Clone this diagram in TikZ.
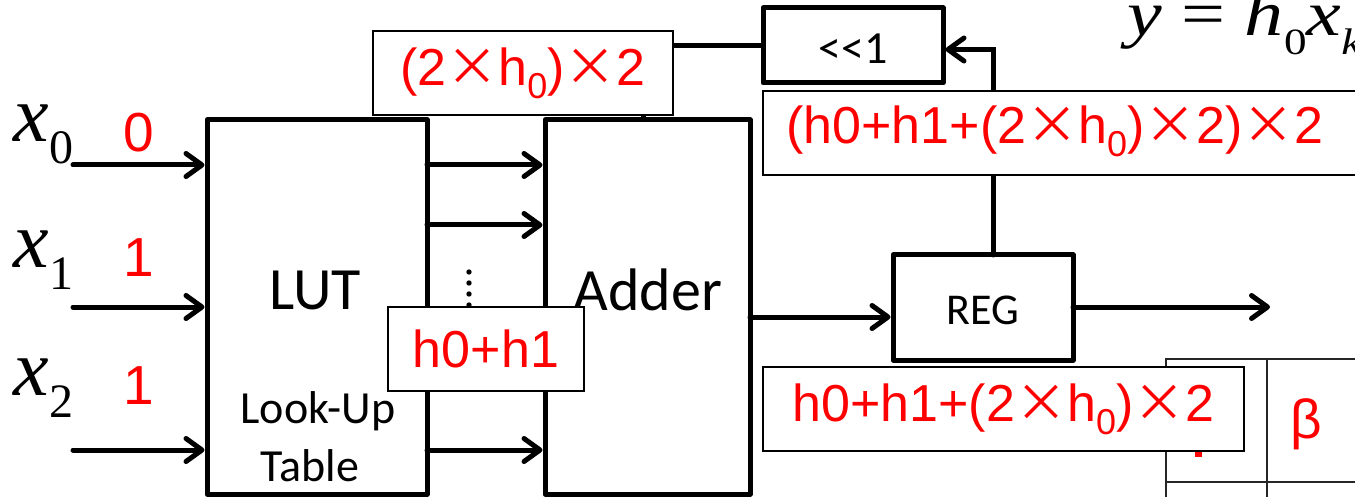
\documentclass[tikz,border=0pt]{standalone}
\usepackage{fontspec}
\setmainfont{Carlito}
\newfontfamily\redsans{Liberation Sans}
\newfontfamily\cjksym{Noto Sans CJK SC}
\newfontfamily\tmsfont{Liberation Serif}
\usetikzlibrary{arrows.meta}

% full-width multiplication sign and lowered subscripts
\newcommand\mulsym{{\cjksym ×}}
\newcommand\lowsub[3]{\raisebox{-#2}{\fontsize{#3}{#3}\selectfont #1}}
\newcommand\redsub[1]{\lowsub{#1}{13pt}{36}}
\newcommand\varsub[1]{\raisebox{-22pt}{\fontsize{48}{48}\selectfont\upshape #1}}

\begin{document}
\begin{tikzpicture}[x=1pt,y=-1pt,
  blk/.style={draw,line width=5pt,inner sep=0pt,line join=round},
  lbl/.style={draw,fill=white,line width=2.7pt,inner sep=0pt,
              font=\redsans\fontsize{52}{56}\selectfont,text=red},
  arr/.style={line width=5pt,line cap=round,
              -{Straight Barb[length=16pt,width=23pt,line cap=round,line join=round]}},
  wire/.style={line width=5pt},
  grid/.style={line width=2.5pt,draw=black!85},
  blktxt/.style={font=\fontsize{60}{64}\selectfont},
  smalltxt/.style={font=\fontsize{46}{50}\selectfont},
  vartxt/.style={font=\tmsfont\itshape\fontsize{80}{82}\selectfont,anchor=base west},
  bittxt/.style={font=\redsans\fontsize{55}{58}\selectfont,text=red}]

\clip (0,0) rectangle (1355,497);

% table fragment at the lower right
\draw[grid] (1166,497) -- (1166,359) -- (1360,359);
\draw[grid] (1267,359) -- (1267,497);
\draw[grid] (1166,482) -- (1360,482);
\node[bittxt] (beta) at (1306,424) {β};
\fill[red] (1195,451) rectangle (1202,457);

% main blocks
\node[blk,minimum width=220pt,minimum height=374pt] (lut) at (317,307) {};
\node[blk,minimum width=205pt,minimum height=374pt] (adder) at (647.5,307) {};
\node[blk,minimum width=180pt,minimum height=105pt] (reg) at (983,307.5) {};
\node[blk,minimum width=180pt,minimum height=75pt] (shl) at (853,45.5) {};

\node[blktxt] (luttxt) at (315,290) {LUT};
\node[smalltxt] (lookup) at (318,411) {Look-Up};
\node[smalltxt] (table) at (310,466) {Table};
\node[blktxt] (addtxt) at (648,290) {Adder};
\node[font=\fontsize{44}{48}\selectfont] (regtxt) at (983,310) {REG};
\node[font=\fontsize{46}{48}\selectfont] (shltxt) at (853,49) {<{}<1};

% inputs
\node[vartxt] (x0) at (10,142) {x\varsub{0}};
\node[vartxt] (x1) at (10,268) {x\varsub{1}};
\node[vartxt] (x2) at (10,395) {x\varsub{2}};
\node[bittxt] (b0) at (139,133) {0};
\node[bittxt] (b1) at (139,258) {1};
\node[bittxt] (b2) at (139,386) {1};

\coordinate (in0) at (73,165);
\coordinate (in1) at (73,307);
\coordinate (in2) at (73,450);
\draw[arr] (in0) -- (in0 -| lut.west);
\draw[arr] (in1) -- (in1 -| lut.west);
\draw[arr] (in2) -- (in2 -| lut.west);

% LUT outputs into the adder
\coordinate (o0) at (427,165);
\coordinate (o1) at (427,225);
\coordinate (o2) at (427,450);
\draw[arr] (o0) -- (o0 -| adder.west);
\draw[arr] (o1) -- (o1 -| adder.west);
\draw[arr] (o2) -- (o2 -| adder.west);
\foreach \yy in {272,283,294,305} \fill (469,\yy) circle (2.7pt);

% adder -> register -> output
\coordinate (s) at (750,317);
\draw[arr] (s) -- (s -| reg.west);
\coordinate (q) at (1073,307);
\coordinate (out) at (1270,307);
\draw[arr] (q) -- (out);

% feedback through the shifter
\coordinate (fb) at (993,255);
\draw[arr] (fb) |- ([yshift=-4pt]shl.east);
\coordinate (fa) at (643,120);
\draw[wire] (shl.west) -| (fa);

% value labels
\node[lbl,minimum width=300pt,minimum height=84pt] (la) at (523,73)
  {(2\mulsym h\redsub{0})\mulsym 2};
\node[lbl,minimum width=196pt,minimum height=84pt] (lb) at (486,349) {h0+h1};
\node[lbl,minimum width=620pt,minimum height=84pt] (lc) at (1073,133) {};
\node[lbl,draw=none,fill=none,anchor=west] (lctxt) at (785,131)
  {(h0+h1+(2\mulsym h\redsub{0})\mulsym 2)\mulsym 2};
\node[lbl,minimum width=481pt,minimum height=84pt] (ld) at (1003.5,409)
  {h0+h1+(2\mulsym h\redsub{0})\mulsym 2};

% output equation
\node[anchor=base west,font=\tmsfont\fontsize{64}{66}\selectfont,inner sep=0pt,xscale=1.22]
  (eq) at (1127,36)
  {\itshape y\upshape\ = \itshape h\lowsub{\upshape 0}{19pt}{37}x\lowsub{k}{19pt}{37}};
\end{tikzpicture}
\end{document}
